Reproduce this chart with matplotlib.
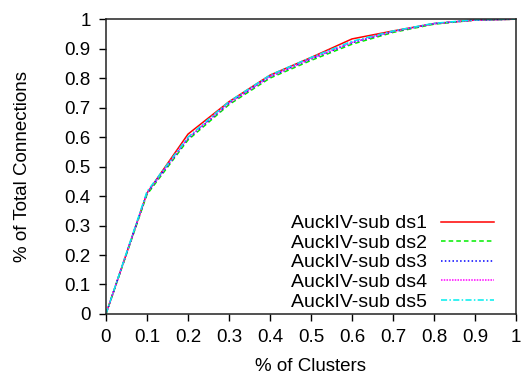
import numpy as np
import matplotlib.pyplot as plt

plt.rcParams['font.family'] = ['Liberation Sans', 'DejaVu Sans']

x = [0, 0.1, 0.2, 0.3, 0.4, 0.5, 0.6, 0.7, 0.8, 0.9, 1.0]
ds1 = [0, 0.41, 0.61, 0.72, 0.81, 0.87, 0.933, 0.96, 0.985, 0.997, 1.0]
ds2 = [0, 0.405, 0.59, 0.71, 0.80, 0.86, 0.915, 0.955, 0.983, 0.997, 1.0]
ds3 = [0, 0.41, 0.595, 0.715, 0.805, 0.865, 0.92, 0.958, 0.985, 0.997, 1.0]
ds4 = [0, 0.41, 0.597, 0.715, 0.805, 0.866, 0.921, 0.958, 0.985, 0.997, 1.0]
ds5 = [0, 0.415, 0.60, 0.72, 0.81, 0.87, 0.925, 0.96, 0.986, 0.998, 1.0]
labels = ['AuckIV-sub ds1', 'AuckIV-sub ds2', 'AuckIV-sub ds3',
          'AuckIV-sub ds4', 'AuckIV-sub ds5']

fig = plt.figure(figsize=(5.22, 3.76), dpi=100)
ax = fig.add_axes([0.203, 0.165, 0.7855, 0.784])

ax.plot(x, ds1, color='#ff0000', lw=1.1, ls='-', label=labels[0])
ax.plot(x, ds2, color='#00ee00', lw=1.1, ls=(0, (3, 2)), label=labels[1])
ax.plot(x, ds3, color='#0000ff', lw=1.1, ls=(0, (1, 1.5)), label=labels[2])
ax.plot(x, ds4, color='#ff00ff', lw=1.1, ls=(0, (1, 0.8)), label=labels[3])
ax.plot(x, ds5, color='#00eeee', lw=1.1, ls=(0, (4, 1.5, 1, 1.5)), label=labels[4])

ax.set_xlim(0, 1)
ax.set_ylim(0, 1)
ticks = np.round(np.arange(0, 1.01, 0.1), 1)
ax.set_xticks(ticks)
ax.set_yticks(ticks)
ax.set_xticklabels(['0' if t == 0 else ('1' if t == 1 else str(t)) for t in ticks])
ax.set_yticklabels(['0' if t == 0 else ('1' if t == 1 else str(t)) for t in ticks])
ax.tick_params(direction='out', length=5, width=1, labelsize=13.5, pad=6)
for s in ax.spines.values():
    s.set_linewidth(1.1)
    s.set_color('#222222')

ax.set_xlabel('% of Clusters', fontsize=13.5, labelpad=8.5)
ax.set_ylabel('% of Total Connections', fontsize=13.5, labelpad=24)

ax.legend(loc='lower right', frameon=False, markerfirst=False, fontsize=14,
          handlelength=2.7, handletextpad=0.75, labelspacing=0.1,
          borderaxespad=0.0, bbox_to_anchor=(0.965, -0.015))

fig.savefig('out.png', dpi=100)
